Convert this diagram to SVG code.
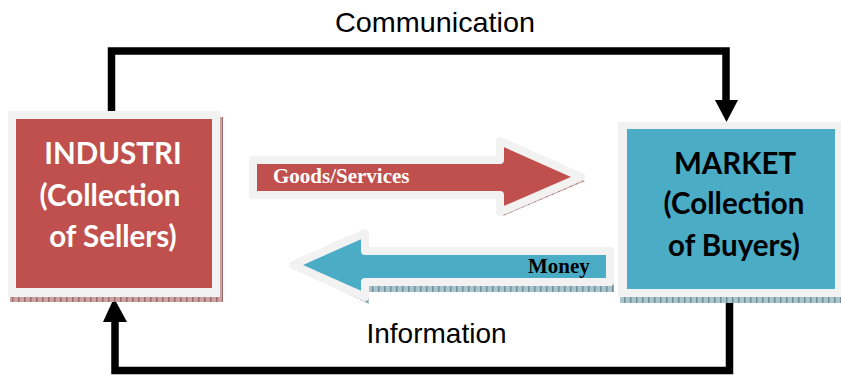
<svg xmlns="http://www.w3.org/2000/svg" width="841" height="375" viewBox="0 0 841 375">
  <style>
    .box-text { font-family: Lato, "Open Sans", sans-serif; font-weight: bold; font-size: 29.5px; text-anchor: middle; }
    .arrow-text { font-family: "Liberation Serif", serif; font-weight: bold; font-size: 21px; }
    .flow-label { font-family: "Liberation Sans", Arial, sans-serif; font-size: 28px; fill: #000; text-anchor: middle; }
    .conn { fill: none; stroke: #000; stroke-width: 7.5; stroke-linejoin: miter; stroke-linecap: butt; }
    .frame { fill: #F2F2F2; }
    .block-arrow { stroke: #F2F2F2; stroke-width: 8; stroke-linejoin: round; }
  </style>
  <defs>
    <pattern id="hatchRed" width="6" height="4" patternUnits="userSpaceOnUse">
      <rect width="6" height="4" fill="#C9A3A3"/>
      <rect x="0" y="0" width="1.5" height="4" fill="#9E6A6A"/>
    </pattern>
    <pattern id="hatchBlue" width="6" height="4" patternUnits="userSpaceOnUse">
      <rect width="6" height="4" fill="#A9C4CA"/>
      <rect x="0" y="0" width="1.5" height="4" fill="#6F9099"/>
    </pattern>
  </defs>

  <rect width="841" height="375" fill="#FFFFFF"/>

  <g id="connectors">
    <path class="conn" d="M111.5,111 V51 H726 V101"/>
    <polygon points="715,100 738,100 726.5,122" fill="#000"/>
    <path class="conn" d="M729.5,298 V370.5 H115 V321"/>
    <polygon points="103,322 127,322 114,298" fill="#000"/>
  </g>

  <g id="label-communication">
    <text class="flow-label" x="435" y="32" textLength="200" lengthAdjust="spacingAndGlyphs">Communication</text>
  </g>
  <g id="label-information">
    <text class="flow-label" x="436.5" y="343">Information</text>
  </g>

  <g id="node-industri">
    <rect x="10" y="117" width="213" height="185" fill="url(#hatchRed)"/>
    <rect class="frame" x="8" y="111" width="212" height="186"/>
    <rect x="16" y="119" width="196" height="169" fill="#C0504D"/>
    <text class="box-text" x="113" y="164" fill="#FFFFFF">INDUSTRI</text>
    <text class="box-text" x="110" y="206" fill="#FFFFFF">(Collection</text>
    <text class="box-text" x="113" y="247" fill="#FFFFFF">of Sellers)</text>
  </g>

  <g id="node-market">
    <rect x="620" y="128" width="221" height="175" fill="url(#hatchBlue)"/>
    <rect class="frame" x="618" y="122" width="223" height="175"/>
    <rect x="627" y="129" width="208" height="160" fill="#4BACC6"/>
    <text class="box-text" x="735" y="174" fill="#000000">MARKET</text>
    <text class="box-text" x="734" y="214" fill="#000000">(Collection</text>
    <text class="box-text" x="734" y="256" fill="#000000">of Buyers)</text>
  </g>

  <g id="arrow-goods">
    <polygon points="256,164 503,164 503,146 585,181 503,216 503,199 256,199" fill="url(#hatchRed)"/>
    <polygon class="block-arrow" points="253,160 500,160 500,141 581,177 500,212 500,195 253,195" fill="#C0504D"/>
    <text class="arrow-text" x="273" y="183" fill="#FFFFFF">Goods/Services</text>
  </g>

  <g id="arrow-money">
    <polygon points="297,269 369,237 369,255 614,255 614,292 369,292 369,304" fill="url(#hatchBlue)"/>
    <polygon class="block-arrow" points="293,265 365,233 365,251 610,251 610,282 365,282 365,297" fill="#4BACC6"/>
    <text class="arrow-text" x="528" y="273" fill="#000000">Money</text>
  </g>
</svg>
